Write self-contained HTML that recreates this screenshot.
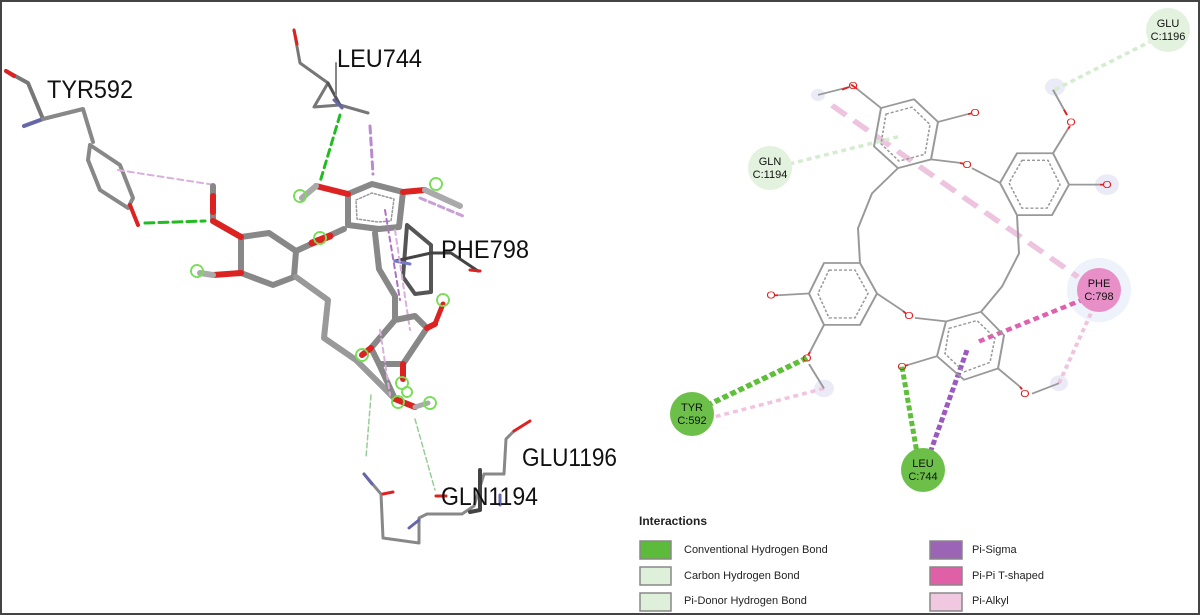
<!DOCTYPE html>
<html><head><meta charset="utf-8"><style>
html,body{margin:0;padding:0;background:#fff}
svg{display:block}
</style></head><body>
<svg width="1200" height="615" viewBox="0 0 1200 615" xmlns="http://www.w3.org/2000/svg">
<rect x="1" y="1" width="1198" height="613" fill="#fff" stroke="#444" stroke-width="2"/>

<!-- LEFT PANEL: 3D stick model -->
<g fill="none" stroke-linecap="round" stroke-linejoin="round">
 <polyline points="6,71 28,83 43,119" stroke="#777" stroke-width="4"/>
 <line x1="6" y1="71" x2="14" y2="76" stroke="#d22" stroke-width="4"/>
 <line x1="43" y1="119" x2="24" y2="126" stroke="#66a" stroke-width="4"/>
 <polyline points="43,119 83,109 93,142" stroke="#888" stroke-width="4"/>
 <polygon points="90,145 120,165 133,198 128,208 100,190 88,160" stroke="#888" stroke-width="4"/>
 <line x1="130" y1="205" x2="138" y2="225" stroke="#d22" stroke-width="4"/>
 <line x1="145" y1="223" x2="205" y2="221" stroke="#2b2" stroke-width="3" stroke-dasharray="9,5"/>
 <line x1="118" y1="170" x2="215" y2="185" stroke="#d9b0dc" stroke-width="2" stroke-dasharray="6,4"/>

 <polyline points="294,30 300,63 328,83 314,107 340,105 368,113" stroke="#777" stroke-width="3"/>
 <line x1="294" y1="30" x2="297" y2="44" stroke="#d22" stroke-width="3"/>
 <line x1="328" y1="83" x2="340" y2="105" stroke="#555" stroke-width="3"/>
 <line x1="336" y1="63" x2="336" y2="95" stroke="#888" stroke-width="2"/>
 <line x1="334" y1="100" x2="342" y2="108" stroke="#66a" stroke-width="3"/>
 <line x1="340" y1="115" x2="320" y2="182" stroke="#2b2" stroke-width="3" stroke-dasharray="7,5"/>
 <line x1="370" y1="126" x2="373" y2="174" stroke="#b98ad0" stroke-width="3" stroke-dasharray="7,5"/>

 <polygon points="241,237 269,233 296,251 294,277 273,285 241,273" stroke="#888" stroke-width="6"/>
 <polyline points="241,237 213,221 213,186" stroke="#888" stroke-width="6"/>
 <line x1="241" y1="237" x2="213" y2="221" stroke="#d22" stroke-width="6"/>
 <line x1="213" y1="212" x2="213" y2="196" stroke="#d22" stroke-width="6"/>
 <line x1="241" y1="273" x2="213" y2="275" stroke="#d22" stroke-width="6"/>
 <line x1="213" y1="275" x2="200" y2="273" stroke="#aaa" stroke-width="6"/>
 <line x1="296" y1="251" x2="344" y2="229" stroke="#888" stroke-width="6"/>
 <line x1="312" y1="243" x2="330" y2="236" stroke="#d22" stroke-width="7"/>

 <polygon points="348,194 372,184 403,192 399,227 379,229 348,225" stroke="#888" stroke-width="6"/>
 <polygon points="356,200 372,193 394,199 391,221 378,222 357,219" stroke="#999" stroke-width="1.5" stroke-dasharray="2,2"/>
 <line x1="348" y1="194" x2="316" y2="186" stroke="#d22" stroke-width="6"/>
 <line x1="316" y1="186" x2="302" y2="198" stroke="#aaa" stroke-width="6"/>
 <line x1="403" y1="192" x2="425" y2="190" stroke="#d22" stroke-width="6"/>
 <line x1="425" y1="190" x2="460" y2="206" stroke="#aaa" stroke-width="6"/>
 <line x1="420" y1="198" x2="463" y2="216" stroke="#c9a0d6" stroke-width="3" stroke-dasharray="6,4"/>

 <polyline points="296,277 328,300 324,338 356,360 395,399" stroke="#999" stroke-width="6"/>
 <polyline points="375,233 379,269 395,296 395,320" stroke="#888" stroke-width="6"/>

 <polygon points="407,225 431,245 431,292 415,294 403,277" stroke="#555" stroke-width="4"/>
 <polyline points="395,261 431,253 451,253 478,271" stroke="#444" stroke-width="3"/>
 <line x1="395" y1="261" x2="410" y2="264" stroke="#77c" stroke-width="3"/>
 <line x1="470" y1="270" x2="480" y2="271" stroke="#d22" stroke-width="3"/>
 <line x1="385" y1="210" x2="400" y2="300" stroke="#b070c0" stroke-width="2" stroke-dasharray="5,4"/>
 <line x1="395" y1="230" x2="410" y2="330" stroke="#d9b0dc" stroke-width="2" stroke-dasharray="5,4"/>

 <polygon points="395,320 415,316 427,328 403,364 379,364 371,348" stroke="#888" stroke-width="6"/>
 <line x1="427" y1="328" x2="435" y2="324" stroke="#d22" stroke-width="6"/>
 <line x1="435" y1="324" x2="443" y2="304" stroke="#d22" stroke-width="5"/>
 <line x1="371" y1="348" x2="362" y2="355" stroke="#d22" stroke-width="6"/>
 <polyline points="379,364 395,399 415,407" stroke="#888" stroke-width="6"/>
 <line x1="403" y1="364" x2="403" y2="379" stroke="#d22" stroke-width="6"/>
 <line x1="395" y1="399" x2="415" y2="407" stroke="#d22" stroke-width="6"/>
 <line x1="415" y1="407" x2="428" y2="403" stroke="#aaa" stroke-width="5"/>
 <line x1="380" y1="330" x2="390" y2="395" stroke="#d9b0dc" stroke-width="2" stroke-dasharray="5,4"/>

 <g stroke="#7d5" stroke-width="2" stroke-dasharray="2,1.5">
  <circle cx="300" cy="196" r="6"/><circle cx="436" cy="184" r="6"/>
  <circle cx="320" cy="238" r="6"/><circle cx="197" cy="271" r="6"/>
  <circle cx="443" cy="300" r="6"/><circle cx="362" cy="355" r="6"/>
  <circle cx="402" cy="383" r="6"/><circle cx="398" cy="402" r="6"/>
  <circle cx="430" cy="403" r="6"/><circle cx="407" cy="392" r="5"/>
 </g>

 <line x1="371" y1="395" x2="366" y2="458" stroke="#9c9" stroke-width="1.5" stroke-dasharray="5,3"/>
 <line x1="415" y1="419" x2="435" y2="490" stroke="#9c9" stroke-width="1.5" stroke-dasharray="5,3"/>
 <polyline points="364,474 381,494 383,538 419,543 419,518 427,514 462,514 474,506 484,474 504,474 506,439 514,431" stroke="#888" stroke-width="3"/>
 <line x1="364" y1="474" x2="372" y2="484" stroke="#66a" stroke-width="3"/>
 <line x1="383" y1="494" x2="393" y2="492" stroke="#d22" stroke-width="3"/>
 <line x1="514" y1="431" x2="530" y2="421" stroke="#d22" stroke-width="3"/>
 <line x1="409" y1="528" x2="419" y2="520" stroke="#66a" stroke-width="3"/>
 <line x1="500" y1="495" x2="500" y2="505" stroke="#66a" stroke-width="3"/>
 <line x1="436" y1="496" x2="446" y2="496" stroke="#d22" stroke-width="3"/>
 <polyline points="480,470 480,510 470,512" stroke="#444" stroke-width="4"/>
</g>
<g font-family="Liberation Sans, sans-serif" font-size="25" fill="#111">
 <text x="47" y="98" textLength="86" lengthAdjust="spacingAndGlyphs">TYR592</text>
 <text x="337" y="67" textLength="85" lengthAdjust="spacingAndGlyphs">LEU744</text>
 <text x="441" y="258" textLength="88" lengthAdjust="spacingAndGlyphs">PHE798</text>
 <text x="522" y="466" textLength="95" lengthAdjust="spacingAndGlyphs">GLU1196</text>
 <text x="441" y="505" textLength="97" lengthAdjust="spacingAndGlyphs">GLN1194</text>
</g>

<!-- RIGHT PANEL: 2D diagram -->
<circle cx="1099" cy="290" r="32" fill="#eef2fa"/>
<g transform="matrix(1,0,0,0.871,0,0)">
<g fill="#e6e6f5" opacity="0.8">
 <circle cx="1055" cy="100" r="10"/><circle cx="1107" cy="212" r="12"/>
 <circle cx="824" cy="446" r="10"/><circle cx="1059" cy="440" r="9"/>
 <circle cx="818" cy="109" r="7"/>
</g>
<g fill="none">
 <line x1="832" y1="121" x2="1078" y2="318" stroke="#edc3de" stroke-width="6" stroke-dasharray="18,10"/>
 <line x1="1055" y1="103" x2="1160" y2="42" stroke="#d5ecd0" stroke-width="4" stroke-dasharray="5,4"/>
 <line x1="898" y1="157" x2="790" y2="188" stroke="#d5ecd0" stroke-width="4" stroke-dasharray="5,4"/>
 <line x1="979" y1="392" x2="1085" y2="343" stroke="#e060b0" stroke-width="5" stroke-dasharray="6,4"/>
 <line x1="1059" y1="440" x2="1094" y2="352" stroke="#f0c4e0" stroke-width="4" stroke-dasharray="5,4"/>
 <line x1="807" y1="411" x2="706" y2="466" stroke="#5fbf3a" stroke-width="6" stroke-dasharray="6,3"/>
 <line x1="824" y1="446" x2="710" y2="480" stroke="#f0c4e0" stroke-width="4" stroke-dasharray="5,4"/>
 <line x1="902" y1="421" x2="917" y2="520" stroke="#5fbf3a" stroke-width="5" stroke-dasharray="6,3"/>
 <line x1="967" y1="402" x2="930" y2="520" stroke="#9b59c0" stroke-width="5" stroke-dasharray="6,3"/>
</g>
<g fill="none" stroke="#999" stroke-width="2">
 <polygon points="881,124 914,114 938,140 931,183 898,193 874,168"/>
 <polygon points="1017,176 1053,176 1069,212 1052,247 1017,247 1000,210"/>
 <polygon points="824,302 860,302 877,337 860,373 824,373 809,337"/>
 <polygon points="946,369 981,358 1004,385 998,423 964,436 937,409"/>
 <g stroke-dasharray="3,2" stroke-width="1.6">
  <polygon points="886,131 912,123 930,143 925,177 899,185 881,165"/>
  <polygon points="1022,184 1048,184 1060,212 1047,239 1022,239 1009,210"/>
  <polygon points="829,310 855,310 868,337 855,365 829,365 818,337"/>
  <polygon points="949,377 977,368 995,388 990,416 964,427 945,406"/>
 </g>
 <polyline points="898,193 872,222 858,262 860,302"/>
 <polyline points="1017,247 1019,291 1002,329 981,358"/>
 <line x1="931" y1="183" x2="960" y2="187"/>
 <line x1="972" y1="193" x2="1000" y2="210"/>
 <line x1="877" y1="337" x2="903" y2="357"/>
 <line x1="915" y1="365" x2="946" y2="369"/>
 <line x1="881" y1="124" x2="857" y2="102"/>
 <line x1="849" y1="100" x2="818" y2="109"/>
 <line x1="938" y1="140" x2="968" y2="131"/>
 <line x1="1053" y1="176" x2="1068" y2="148"/>
 <line x1="1067" y1="132" x2="1053" y2="103"/>
 <line x1="1069" y1="212" x2="1100" y2="212"/>
 <line x1="809" y1="337" x2="778" y2="339"/>
 <line x1="824" y1="373" x2="810" y2="404"/>
 <line x1="809" y1="418" x2="824" y2="446"/>
 <line x1="937" y1="409" x2="908" y2="419"/>
 <line x1="998" y1="423" x2="1020" y2="444"/>
 <line x1="1032" y1="452" x2="1059" y2="440"/>
</g>
<g fill="none" stroke="#e02020" stroke-width="2">
 <line x1="857" y1="102" x2="851" y2="97"/><line x1="849" y1="100" x2="842" y2="103"/>
 <line x1="968" y1="131" x2="972" y2="130"/>
 <line x1="1068" y1="148" x2="1070" y2="145"/><line x1="1067" y1="132" x2="1064" y2="126"/>
 <line x1="1100" y1="212" x2="1103" y2="212"/>
 <line x1="778" y1="339" x2="774" y2="339"/>
 <line x1="810" y1="404" x2="808" y2="408"/>
 <line x1="908" y1="419" x2="905" y2="420"/>
 <line x1="1020" y1="444" x2="1022" y2="447"/>
 <line x1="960" y1="187" x2="963" y2="188"/>
 <line x1="903" y1="357" x2="906" y2="360"/>
</g>
<g font-family="Liberation Sans, sans-serif" font-size="12" fill="#e02020" text-anchor="middle">
 <text x="853" y="102">O</text><text x="975" y="133">O</text>
 <text x="967" y="193">O</text><text x="1071" y="144">O</text>
 <text x="1107" y="216">O</text><text x="771" y="343">O</text>
 <text x="909" y="366">O</text><text x="807" y="415">O</text>
 <text x="902" y="425">O</text><text x="1025" y="456">O</text>
</g>
</g>

<g font-family="Liberation Sans, sans-serif" font-size="11" text-anchor="middle" fill="#111">
 <circle cx="1168" cy="30" r="22" fill="#e3f2de"/>
 <text x="1168" y="27">GLU</text><text x="1168" y="40">C:1196</text>
 <circle cx="770" cy="168" r="22" fill="#e3f2de"/>
 <text x="770" y="165">GLN</text><text x="770" y="178">C:1194</text>
 <circle cx="1099" cy="290" r="22" fill="#e78fc6"/>
 <text x="1099" y="287">PHE</text><text x="1099" y="300">C:798</text>
 <circle cx="692" cy="414" r="22" fill="#6cc04a"/>
 <text x="692" y="411">TYR</text><text x="692" y="424">C:592</text>
 <circle cx="923" cy="470" r="22" fill="#6cc04a"/>
 <text x="923" y="467">LEU</text><text x="923" y="480">C:744</text>
</g>

<g font-family="Liberation Sans, sans-serif" font-size="11" fill="#222">
 <text x="639" y="525" font-weight="bold" font-size="12">Interactions</text>
 <rect x="640" y="541" width="31" height="18" fill="#5dbb3c" stroke="#888" stroke-width="1.5"/>
 <rect x="640" y="567" width="31" height="18" fill="#dff0da" stroke="#888" stroke-width="1.5"/>
 <rect x="640" y="593" width="31" height="18" fill="#dff0da" stroke="#888" stroke-width="1.5"/>
 <text x="684" y="553">Conventional Hydrogen Bond</text>
 <text x="684" y="579">Carbon Hydrogen Bond</text>
 <text x="684" y="604">Pi-Donor Hydrogen Bond</text>
 <rect x="930" y="541" width="32" height="18" fill="#9b64b4" stroke="#888" stroke-width="1.5"/>
 <rect x="930" y="567" width="32" height="18" fill="#e060a8" stroke="#888" stroke-width="1.5"/>
 <rect x="930" y="593" width="32" height="18" fill="#f0c8e0" stroke="#888" stroke-width="1.5"/>
 <text x="972" y="553">Pi-Sigma</text>
 <text x="972" y="579">Pi-Pi T-shaped</text>
 <text x="972" y="604">Pi-Alkyl</text>
</g>
</svg>
</body></html>
